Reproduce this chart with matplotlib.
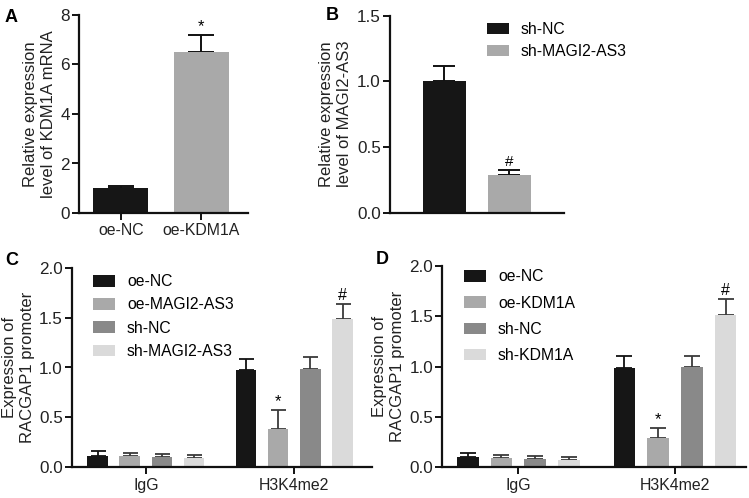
import matplotlib
matplotlib.use("Agg")
import matplotlib.pyplot as plt
import numpy as np
from matplotlib.patches import Patch

plt.rcParams['font.family'] = ['Liberation Sans', 'DejaVu Sans']
plt.rcParams['font.size'] = 11

# ---- Data ----
a_labels = ["oe-NC", "oe-KDM1A"]
a_vals = [1.0, 6.5]
a_errs = [0.1, 0.69]

b_labels = ["sh-NC", "sh-MAGI2-AS3"]
b_vals = [1.0, 0.29]
b_errs = [0.117, 0.035]

groups = ["IgG", "H3K4me2"]
c_series = ["oe-NC", "oe-MAGI2-AS3", "sh-NC", "sh-MAGI2-AS3"]
c_vals = [[0.111, 0.975], [0.104, 0.376], [0.097, 0.985], [0.084, 1.486]]
c_errs = [[0.047, 0.114], [0.037, 0.192], [0.031, 0.117], [0.034, 0.151]]
c_marks = ["", "*", "", "#"]

d_series = ["oe-NC", "oe-KDM1A", "sh-NC", "sh-KDM1A"]
d_vals = [[0.103, 0.983], [0.093, 0.291], [0.083, 0.993], [0.076, 1.513]]
d_errs = [[0.036, 0.120], [0.033, 0.096], [0.026, 0.113], [0.023, 0.159]]
d_marks = ["", "*", "", "#"]

colors4 = ["#161616", "#a9a9a9", "#898989", "#dadada"]

W, H = 749, 498
fig = plt.figure(figsize=(W / 100, H / 100), dpi=100)

YT = 12.3   # y tick label size
XT = 11.4   # x tick label size
LAB = 12.0  # axis label size
LEG = 11.3  # legend size


def add_ax(x0, x1, ytop, ybot):
    return fig.add_axes([x0 / W, 1 - ybot / H, (x1 - x0) / W, (ybot - ytop) / H])


def style(ax):
    ax.spines['top'].set_visible(False)
    ax.spines['right'].set_visible(False)
    for s in ['left', 'bottom']:
        ax.spines[s].set_linewidth(1.6)
        ax.spines[s].set_color('#111111')
    ax.tick_params(axis='both', width=1.4, length=5, color='#111111', labelcolor='#222222')
    ax.tick_params(axis='y', labelsize=YT, pad=1.5)
    ax.tick_params(axis='x', labelsize=XT, pad=2)


# ---- Panel A ----
axA = add_ax(79, 248, 15, 213)
xa = np.arange(len(a_labels))
axA.bar(xa, a_vals, width=0.68, color=[colors4[0], colors4[1]], zorder=2)
axA.errorbar(xa, a_vals, yerr=[np.zeros(2), a_errs], fmt='none', ecolor='#111111',
             elinewidth=1.4, capsize=9.5, capthick=1.4, zorder=1)
axA.text(xa[1], a_vals[1] + a_errs[1] + 0.05, "*", ha='center', va='bottom', fontsize=12)
axA.set_xlim(-0.52, 1.58)
axA.set_ylim(0, 8)
axA.set_yticks([0, 2, 4, 6, 8])
axA.set_xticks(xa)
axA.set_xticklabels(a_labels)
axA.set_ylabel("Relative expression\nlevel of KDM1A mRNA", fontsize=LAB, labelpad=3,
               color='#222222', linespacing=1.25)
style(axA)
fig.text(5 / W, 1 - 17 / H, "A", fontsize=13, fontweight='bold', ha='left', va='center')

# ---- Panel B ----
axB = add_ax(390, 564, 15.7, 212.7)
xb = np.arange(len(b_labels))
axB.bar(xb, b_vals, width=0.667, color=[colors4[0], colors4[1]], zorder=2)
axB.errorbar(xb, b_vals, yerr=[np.zeros(2), b_errs], fmt='none', ecolor='#111111',
             elinewidth=1.4, capsize=7.8, capthick=1.4, zorder=1)
axB.text(xb[1], b_vals[1] + b_errs[1] + 0.005, "#", ha='center', va='bottom', fontsize=11)
axB.set_xlim(-0.835, 1.84)
axB.set_ylim(0, 1.5)
axB.set_yticks([0, 0.5, 1.0, 1.5])
axB.set_yticklabels(["0.0", "0.5", "1.0", "1.5"])
axB.set_xticks([])
axB.set_ylabel("Relative expression\nlevel of MAGI2-AS3", fontsize=LAB, labelpad=4,
               color='#222222', linespacing=1.25)
style(axB)
handlesB = [Patch(facecolor=colors4[i], edgecolor='none') for i in range(2)]
axB.legend(handlesB, b_labels, loc='upper left', bbox_to_anchor=((484 - 390) / 174 - 0.02, 1.0),
           frameon=False, fontsize=LEG, handlelength=1.4, handleheight=0.75,
           labelspacing=0.45, handletextpad=0.75, borderaxespad=0.0)
fig.text(326 / W, 1 - 15 / H, "B", fontsize=13, fontweight='bold', ha='left', va='center')


# ---- Panels C and D ----
def grouped(ax, series, vals, errs, marks, spacing, width, capsize, xlim, lg_x, lg_y, lsp):
    xg = np.arange(len(groups))
    n = len(series)
    for i in range(n):
        off = (i - (n - 1) / 2) * spacing
        ax.bar(xg + off, vals[i], width=width, color=colors4[i], zorder=2, label=series[i])
        ax.errorbar(xg + off, vals[i], yerr=[np.zeros(len(groups)), errs[i]], fmt='none',
                    ecolor='#3a3a3a' if i else '#111111', elinewidth=1.3, capsize=capsize,
                    capthick=1.3, zorder=1)
        for j in range(len(groups)):
            if marks[i] and j == 1:
                ax.text(xg[j] + off, vals[i][j] + errs[i][j] + 0.01, marks[i], ha='center',
                        va='bottom', fontsize=12 if marks[i] == "*" else 11.5)
    ax.set_xlim(*xlim)
    ax.set_ylim(0, 2.0)
    ax.set_yticks([0, 0.5, 1.0, 1.5, 2.0])
    ax.set_yticklabels(["0.0", "0.5", "1.0", "1.5", "2.0"])
    ax.set_xticks(xg)
    ax.set_xticklabels(groups)
    ax.set_ylabel("Expression of\nRACGAP1 promoter", fontsize=LAB, labelpad=3, color='#222222',
                  linespacing=1.25)
    style(ax)
    ax.tick_params(axis='x', pad=3)
    ax.legend(loc='upper left', bbox_to_anchor=(lg_x, lg_y), frameon=False, fontsize=LEG,
              handlelength=1.4, handleheight=0.75, labelspacing=lsp, handletextpad=0.75,
              borderaxespad=0.0)


axC = add_ax(71.7, 372, 268.3, 466.7)
grouped(axC, c_series, c_vals, c_errs, c_marks, 0.2168, 0.138, 5.4, (-0.499, 1.523),
        (93 - 71.7) / 300.3 - 0.02, 1 - (268 - 268.3) / 198.4, 0.52)
fig.text(5 / W, 1 - 260 / H, "C", fontsize=13, fontweight='bold', ha='left', va='center')

axD = add_ax(442.3, 745.7, 266, 467.3)
grouped(axD, d_series, d_vals, d_errs, d_marks, 0.215, 0.138, 5.6, (-0.485, 1.451),
        (464 - 442.3) / 303.4 - 0.02, 1 + 3 / 201.3, 0.72)
fig.text(376 / W, 1 - 259 / H, "D", fontsize=13, fontweight='bold', ha='left', va='center')

fig.savefig("out.png", dpi=100)
